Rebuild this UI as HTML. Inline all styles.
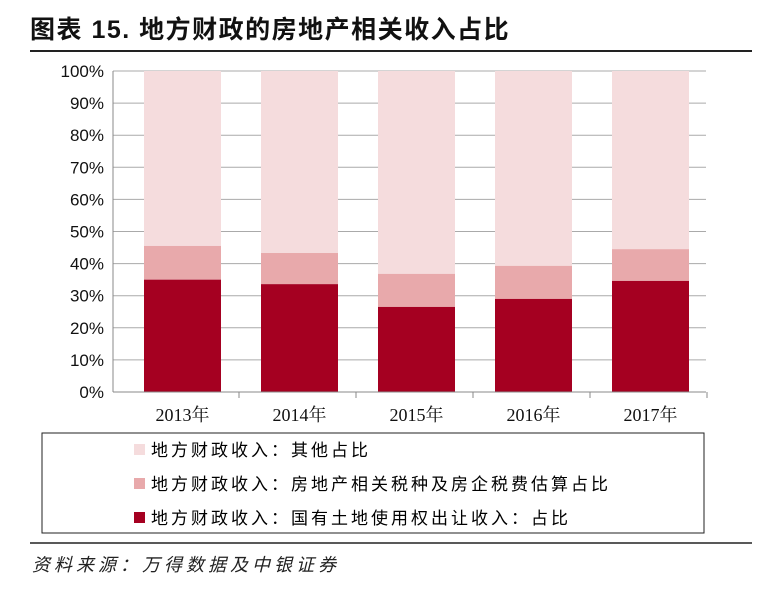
<!DOCTYPE html>
<html><head><meta charset="utf-8">
<style>
body{margin:0;background:#fff;width:780px;height:591px;overflow:hidden;font-family:"Liberation Serif","Noto Serif CJK SC",serif;}
</style></head>
<body>
<svg width="780" height="591" xmlns="http://www.w3.org/2000/svg">
<text x="30" y="38" font-size="25" font-weight="bold" letter-spacing="1.5" fill="#111" font-family="'Liberation Sans','Noto Sans CJK SC',sans-serif">图表 15. 地方财政的房地产相关收入占比</text>
<line x1="30" y1="51" x2="752" y2="51" stroke="#222" stroke-width="2"/>
<g id="grid"></g>
<g id="bars"></g>
<g id="axes"></g>
<rect x="42" y="433" width="662" height="100" fill="none" stroke="#222" stroke-width="1"/>
<g><rect x="134" y="444" width="11" height="11" fill="#f5dcdd"/><text x="151" y="456" font-size="17" letter-spacing="3" font-family="'Noto Sans CJK SC',sans-serif">地方财政收入：其他占比</text></g>
<g><rect x="134" y="478" width="11" height="11" fill="#e8a9ab"/><text x="151" y="490" font-size="17" letter-spacing="3" font-family="'Noto Sans CJK SC',sans-serif">地方财政收入：房地产相关税种及房企税费估算占比</text></g>
<g><rect x="134" y="512" width="11" height="11" fill="#a50021"/><text x="151" y="524" font-size="17" letter-spacing="3" font-family="'Noto Sans CJK SC',sans-serif">地方财政收入：国有土地使用权出让收入：占比</text></g>
<line x1="30" y1="543" x2="752" y2="543" stroke="#222" stroke-width="1.5"/>
<text x="32" y="571" font-size="18" letter-spacing="4" font-style="italic" fill="#222" font-family="'Noto Sans CJK SC',sans-serif">资料来源：万得数据及中银证券</text>
</svg>
<script>
const categories=["2013年","2014年","2015年","2016年","2017年"];
const landShare=[35,33.6,26.5,29,34.6];
const taxShare=[10.5,9.7,10.3,10.3,9.9];
const yTicks=[0,10,20,30,40,50,60,70,80,90,100];
const NS="http://www.w3.org/2000/svg";
const gx0=113,gx1=706,x0=124,x1=709,yTop=71,yBot=392;
const band=(x1-x0)/categories.length, bw=77;
const y=v=>yBot-(v/100)*(yBot-yTop);
const xc=i=>x0+band*(i+0.5);
function mk(tag,attrs,parent){const e=document.createElementNS(NS,tag);for(const k in attrs)e.setAttribute(k,attrs[k]);parent.appendChild(e);return e;}
const grid=document.getElementById('grid'),bars=document.getElementById('bars'),axes=document.getElementById('axes');
yTicks.forEach(t=>{
 const l=mk('line',{x1:gx0,x2:gx1,y1:y(t),y2:y(t),stroke:'#aaa','stroke-width':1},grid);
 
 
 const tx=mk('text',{x:104,y:y(t)+6,'text-anchor':'end','font-size':17,'font-family':"'Liberation Sans',sans-serif",fill:'#111'},axes);
 tx.textContent=t+'%';
 
 
});
categories.forEach((c,i)=>{
 const a=landShare[i],b=taxShare[i];
 const cx=xc(i)-bw/2;
 const r1=mk('rect',{x:cx,y:y(100),width:bw,height:y(a+b)-y(100),fill:'#f5dcdd'},bars);
 
 
 const r2=mk('rect',{x:cx,y:y(a+b),width:bw,height:y(a)-y(a+b),fill:'#e8a9ab'},bars);
 
 
 const r3=mk('rect',{x:cx,y:y(a),width:bw,height:y(0)-y(a),fill:'#a50021'},bars);
 
 
 const tx=mk('text',{x:xc(i),y:421,'text-anchor':'middle','font-size':18,fill:'#111'},axes);
 tx.textContent=c;
 
 
 const tk=mk('line',{x1:x0+band*(i+1)-2,x2:x0+band*(i+1)-2,y1:yBot,y2:yBot+6,stroke:'#888'},axes);
 
 
});
const ax=mk('line',{x1:gx0,x2:gx1,y1:yBot,y2:yBot,stroke:'#888','stroke-width':1},axes);


const ay=mk('line',{x1:gx0,x2:gx0,y1:yTop,y2:yBot,stroke:'#888','stroke-width':1},axes);


</script>
</body></html>
